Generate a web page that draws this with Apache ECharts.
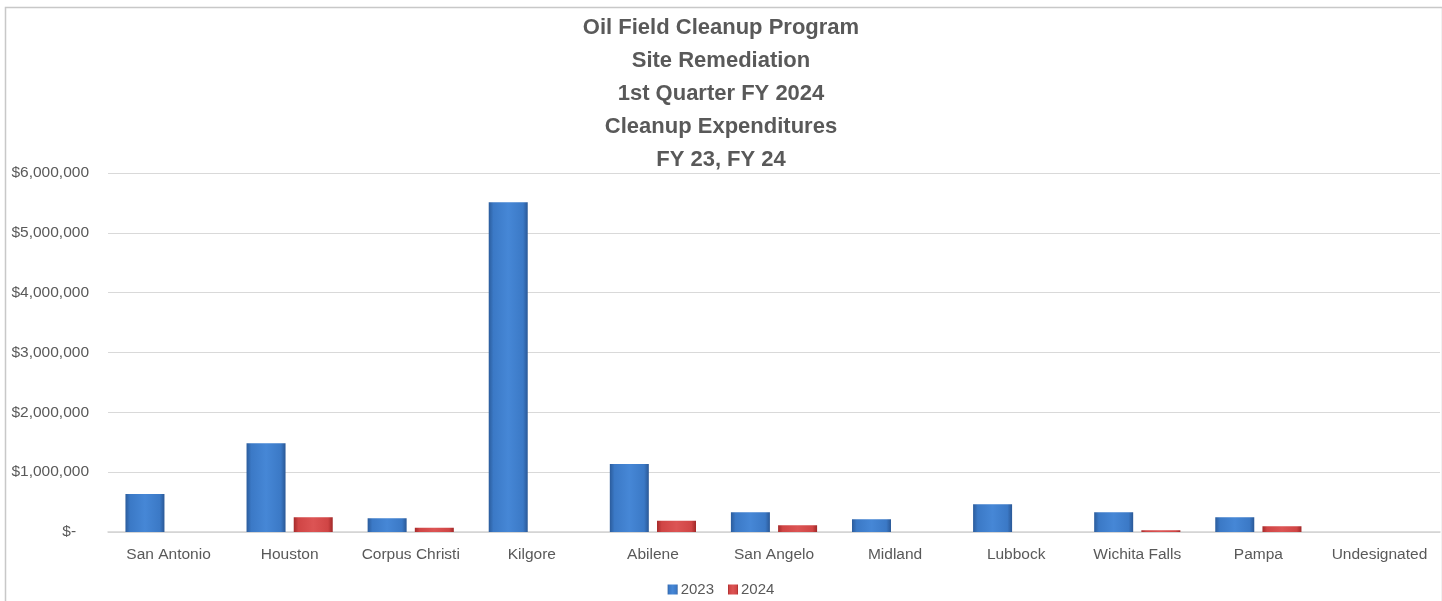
<!DOCTYPE html>
<html>
<head>
<meta charset="utf-8">
<script src="https://cdn.jsdelivr.net/npm/echarts@6/dist/echarts.min.js"></script>
<style>
html,body{margin:0;padding:0;background:#fff;}
#main{width:1442px;height:601px;}
</style>
</head>
<body>
<div id="main"></div>
<script>
var categories = ['San Antonio','Houston','Corpus Christi','Kilgore','Abilene','San Angelo','Midland','Lubbock','Wichita Falls','Pampa','Undesignated'];
var seriesNames = ['2023','2024'];
var values2023 = [635000, 1483000, 229000, 5513000, 1137000, 329000, 212000, 463000, 329000, 246000, 0];
var values2024 = [0, 246000, 72000, 0, 189000, 112000, 0, 0, 30000, 95000, 0];
var yTicks = [0, 1000000, 2000000, 3000000, 4000000, 5000000, 6000000];
var titleLines = ['Oil Field Cleanup Program','Site Remediation','1st Quarter FY 2024','Cleanup Expenditures','FY 23, FY 24'];

var chart = echarts.init(document.getElementById('main'), null, {renderer:'canvas'});
var G = echarts.graphic.LinearGradient;
var blueFill = new G(0,0,1,0,[
  {offset:0,color:'#2b5c9c'},{offset:0.12,color:'#3b79c6'},
  {offset:0.5,color:'#4687d6'},{offset:0.88,color:'#3b79c6'},{offset:1,color:'#2a5896'}]);
var redFill = new G(0,0,1,0,[
  {offset:0,color:'#a52a2a'},{offset:0.12,color:'#d04545'},
  {offset:0.5,color:'#dc5454'},{offset:0.88,color:'#d04545'},{offset:1,color:'#a02828'}]);

var option = {
  backgroundColor:'#ffffff',
  animation:false,
  title:{
    text: titleLines.join('\n'),
    left:'center', top:6,
    textStyle:{fontFamily:'Liberation Sans', fontWeight:'bold', fontSize:22, color:'#595959', lineHeight:33}
  },
  graphic:[{
    type:'rect', left:3, top:5, silent:true,
    shape:{width:1437, height:600},
    style:{fill:'none', stroke:'#c8c8c8', lineWidth:1.5}
  }],
  legend:{
    data:seriesNames, bottom:4, left:'center', padding:0,
    itemWidth:10, itemHeight:10, itemGap:14,
    icon:'rect',
    textStyle:{fontFamily:'Liberation Sans', fontSize:15, color:'#595959', padding:[0,0,0,-2]}
  },
  grid:{left:108, right:2, top:173, bottom:69, containLabel:false},
  xAxis:{
    type:'category', data:categories,
    axisTick:{show:false},
    axisLine:{lineStyle:{color:'#d4d4d4', width:1.5}},
    axisLabel:{fontFamily:'Liberation Sans', fontSize:15.5, color:'#595959', margin:15, interval:0}
  },
  yAxis:{
    type:'value', min:0, max:6000000, interval:1000000,
    axisLine:{show:false}, axisTick:{show:false},
    splitLine:{lineStyle:{color:'#d9d9d9', width:1}},
    axisLabel:{fontFamily:'Liberation Sans', fontSize:15.5, color:'#595959', margin:19,
      formatter:function(v){ return v===0 ? '$-   ' : '$' + v.toLocaleString('en-US'); }}
  },
  series:[
    {name:seriesNames[0], type:'bar', data:values2023, barWidth:39, barGap:'21%',
     itemStyle:{color:blueFill}},
    {name:seriesNames[1], type:'bar', data:values2024, barWidth:39,
     itemStyle:{color:redFill}}
  ]
};
chart.setOption(option);
</script>
</body>
</html>
